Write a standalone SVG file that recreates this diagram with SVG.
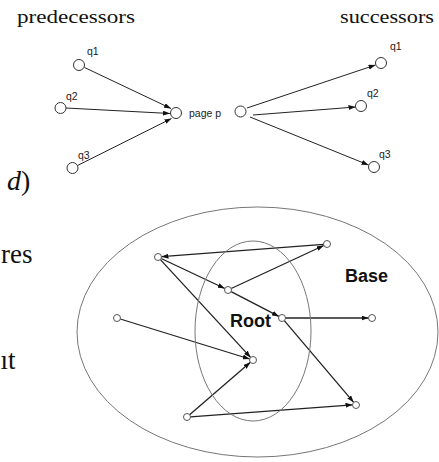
<svg xmlns="http://www.w3.org/2000/svg" width="439" height="462" viewBox="0 0 439 462">
<style>
.serif{font-family:"Liberation Serif","Times New Roman",serif;fill:#111}
.lbl{font-family:"Liberation Sans",Arial,sans-serif;font-size:10.5px;fill:#222}
.big{font-family:"Liberation Sans",Arial,sans-serif;font-size:18px;font-weight:bold;fill:#111}
.node{fill:#fff;stroke:#333;stroke-width:1}
.snode{fill:#fff;stroke:#555;stroke-width:1}
.edge{stroke:#222;stroke-width:1;fill:none;marker-end:url(#ah)}
.edge2{stroke:#222;stroke-width:1.3;fill:none;marker-end:url(#ah2)}
.ell{fill:none;stroke:#777;stroke-width:1}
</style>
<defs>
<marker id="ah" markerUnits="userSpaceOnUse" markerWidth="7" markerHeight="5" refX="7" refY="2.5" orient="auto"><path d="M0,0 L7,2.5 L0,5 z" fill="#111"/></marker>
<marker id="ah2" markerUnits="userSpaceOnUse" markerWidth="7" markerHeight="5" refX="7" refY="2.5" orient="auto"><path d="M0,0 L7,2.5 L0,5 z" fill="#111"/></marker>
</defs>
<rect width="439" height="462" fill="#fff"/>
<text class="serif" x="17" y="23" font-size="19" textLength="118" lengthAdjust="spacingAndGlyphs">predecessors</text>
<text class="serif" x="340" y="23" font-size="19" textLength="94" lengthAdjust="spacingAndGlyphs">successors</text>
<text class="serif" x="7" y="190" font-size="28"><tspan font-style="italic">d</tspan>)</text>
<text class="serif" x="32.5" y="263" font-size="27" text-anchor="end">res</text>
<text class="serif" x="15.5" y="369" font-size="27" text-anchor="end">ıt</text>
<g id="connectors">
<line class="edge" x1="84.5" y1="67.5" x2="171" y2="108.5"/>
<line class="edge" x1="66" y1="108" x2="170" y2="113.5"/>
<line class="edge" x1="77.5" y1="165.5" x2="171.5" y2="118.5"/>
<line class="edge" x1="247" y1="108" x2="375.5" y2="65"/>
<line class="edge" x1="253" y1="115" x2="355.5" y2="107"/>
<line class="edge" x1="250" y1="117" x2="368.5" y2="165"/>
<line class="edge2" x1="323.5" y1="244.3" x2="161.5" y2="256.7"/>
<line class="edge2" x1="161.2" y1="258.5" x2="224.8" y2="288.5"/>
<line class="edge2" x1="160.4" y1="259.6" x2="250.6" y2="357.4"/>
<line class="edge2" x1="231.2" y1="288.5" x2="323.8" y2="245.5"/>
<line class="edge2" x1="231.1" y1="291.6" x2="278.9" y2="316.4"/>
<line class="edge2" x1="285.5" y1="318" x2="368.5" y2="318"/>
<line class="edge2" x1="284.3" y1="320.7" x2="353.7" y2="402.3"/>
<line class="edge2" x1="120.3" y1="319" x2="249.7" y2="359"/>
<line class="edge2" x1="189.6" y1="414.7" x2="250.4" y2="362.3"/>
<line class="edge2" x1="190.5" y1="416.8" x2="352.5" y2="404.8"/>
</g>
<g id="base"><ellipse class="ell" cx="257.5" cy="332" rx="180.5" ry="125"/><text class="big" x="345" y="282">Base</text></g>
<g id="root"><ellipse class="ell" cx="253" cy="331" rx="58" ry="90"/><text class="big" x="230" y="327">Root</text></g>
<g id="pred-q1"><circle class="node" cx="79" cy="65" r="5.5"/><text class="lbl" x="87" y="55">q1</text></g>
<g id="pred-q2"><circle class="node" cx="60.5" cy="108" r="5.5"/><text class="lbl" x="66" y="100">q2</text></g>
<g id="pred-q3"><circle class="node" cx="72.5" cy="168" r="5.5"/><text class="lbl" x="78" y="159">q3</text></g>
<g id="page-p"><circle class="node" cx="176" cy="113" r="5.5"/><text class="lbl" x="189" y="116.5" font-size="10">page p</text></g>
<g id="page-p2"><circle class="node" cx="240.5" cy="111.5" r="5.5"/></g>
<g id="succ-q1"><circle class="node" cx="381" cy="63" r="5.5"/><text class="lbl" x="390" y="50">q1</text></g>
<g id="succ-q2"><circle class="node" cx="361" cy="106" r="5.5"/><text class="lbl" x="367" y="97">q2</text></g>
<g id="succ-q3"><circle class="node" cx="374" cy="167" r="5.5"/><text class="lbl" x="379" y="158">q3</text></g>
<g id="nA"><circle class="snode" cx="158" cy="257" r="3.5"/></g>
<g id="nB"><circle class="snode" cx="327" cy="244" r="3.5"/></g>
<g id="nC"><circle class="snode" cx="228" cy="290" r="3.5"/></g>
<g id="nD"><circle class="snode" cx="282" cy="318" r="3.5"/></g>
<g id="nE"><circle class="snode" cx="372" cy="318" r="3.5"/></g>
<g id="nF"><circle class="snode" cx="117" cy="318" r="3.5"/></g>
<g id="nG"><circle class="snode" cx="253" cy="360" r="3.5"/></g>
<g id="nH"><circle class="snode" cx="187" cy="417" r="3.5"/></g>
<g id="nI"><circle class="snode" cx="356" cy="405" r="3.5"/></g>
</svg>
